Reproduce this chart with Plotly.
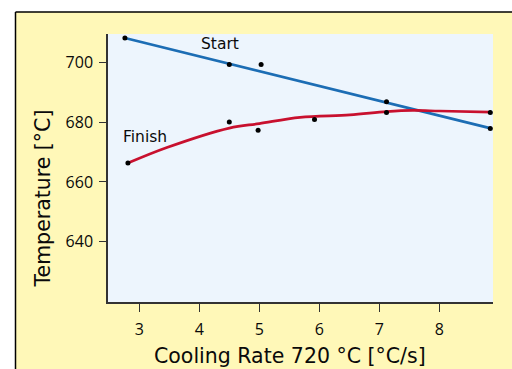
import plotly.graph_objects as go

# ---- data ----
start_x = [2.76, 4.50, 5.03, 7.12, 8.85]
start_y = [708.1, 699.2, 699.2, 686.8, 677.9]
start_fit_x = [2.76, 8.86]
start_fit_y = [708.1, 677.9]

finish_x = [2.81, 4.50, 4.98, 5.92, 7.12, 8.85]
finish_y = [666.3, 680.0, 677.3, 680.9, 683.2, 683.2]
finish_fit_x = [2.81, 3.46, 4.50, 5.00, 5.68, 6.51, 7.12, 7.56, 8.00, 8.86]
finish_fit_y = [666.3, 671.5, 678.0, 679.5, 681.6, 682.4, 683.5, 683.9, 683.7, 683.3]

x_ticks = [3, 4, 5, 6, 7, 8]
y_ticks = [640, 660, 680, 700]

W, H = 512, 369
L, R, T, B = 108, 19, 34, 67
pw, ph = W - L - R, H - T - B

def px(xp):
    return (xp - L) / pw

def py(yp):
    return (H - B - yp) / ph

TICKFONT = "Open Sans"
FONT = "DejaVu Sans"
YELLOW = "#FFF8B8"
PLOTBG = "#EDF5FD"
BLUE = "#1C6DB4"
RED = "#C8102E"
TXT = "#0A0A0A"

fig = go.Figure()
fig.add_trace(go.Scatter(x=start_fit_x, y=start_fit_y, mode="lines",
                         line=dict(color=BLUE, width=2.7), hoverinfo="skip"))
fig.add_trace(go.Scatter(x=finish_fit_x, y=finish_fit_y, mode="lines",
                         line=dict(color=RED, width=2.7, shape="spline", smoothing=1.0),
                         hoverinfo="skip"))
fig.add_trace(go.Scatter(x=start_x, y=start_y, mode="markers",
                         marker=dict(color="black", size=5), cliponaxis=False))
fig.add_trace(go.Scatter(x=finish_x, y=finish_y, mode="markers",
                         marker=dict(color="black", size=5), cliponaxis=False))

axis_common = dict(showgrid=False, zeroline=False, showline=True, linecolor="#333333",
                   linewidth=1.5, ticks="outside", tickwidth=1.3,
                   tickcolor="#333333",
                   tickfont=dict(family=TICKFONT, size=16, color=TXT))
fig.update_xaxes(range=[2.478, 8.895], tickvals=x_ticks, ticktext=[str(v) for v in x_ticks],
                 ticklen=8, ticklabelstandoff=4, **axis_common)
fig.update_yaxes(range=[619.9, 709.43], tickvals=y_ticks, ticktext=[str(v) for v in y_ticks],
                 ticklen=7, ticklabelstandoff=3, **axis_common)

shapes = [
    # white outside the framed panel
    dict(type="rect", xref="paper", yref="paper", x0=px(-5), x1=px(15.5), y0=py(400), y1=py(-5),
         fillcolor="white", line=dict(width=0), layer="above"),
    dict(type="rect", xref="paper", yref="paper", x0=px(-5), x1=px(520), y0=py(12), y1=py(-5),
         fillcolor="white", line=dict(width=0), layer="above"),
    # frame lines
    dict(type="line", xref="paper", yref="paper", x0=px(15.5), x1=px(520), y0=py(12), y1=py(12),
         line=dict(color="black", width=1.5), layer="above"),
    dict(type="line", xref="paper", yref="paper", x0=px(15.5), x1=px(15.5), y0=py(12), y1=py(400),
         line=dict(color="black", width=1.5), layer="above"),
]

annotations = [
    dict(text="Start", x=4.353, y=706.0, xref="x", yref="y", showarrow=False,
         font=dict(family=FONT, size=15.5, color=TXT), xanchor="center", yanchor="middle"),
    dict(text="Finish", x=3.10, y=674.9, xref="x", yref="y", showarrow=False,
         font=dict(family=FONT, size=15.5, color=TXT), xanchor="center", yanchor="middle"),
    dict(text="Cooling Rate 720 °C [°C/s]", x=px(290), y=py(355.5), xref="paper", yref="paper",
         showarrow=False, font=dict(family=FONT, size=20.5, color=TXT),
         xanchor="center", yanchor="middle"),
    dict(text="Temperature [°C]", x=px(42.5), y=py(199), xref="paper", yref="paper",
         showarrow=False, textangle=-90, font=dict(family=FONT, size=20.5, color=TXT),
         xanchor="center", yanchor="middle"),
]

fig.update_layout(width=W, height=H, margin=dict(l=L, r=R, t=T, b=B),
                  paper_bgcolor=YELLOW, plot_bgcolor=PLOTBG, showlegend=False,
                  shapes=shapes, annotations=annotations)

fig.write_html("out.html")
